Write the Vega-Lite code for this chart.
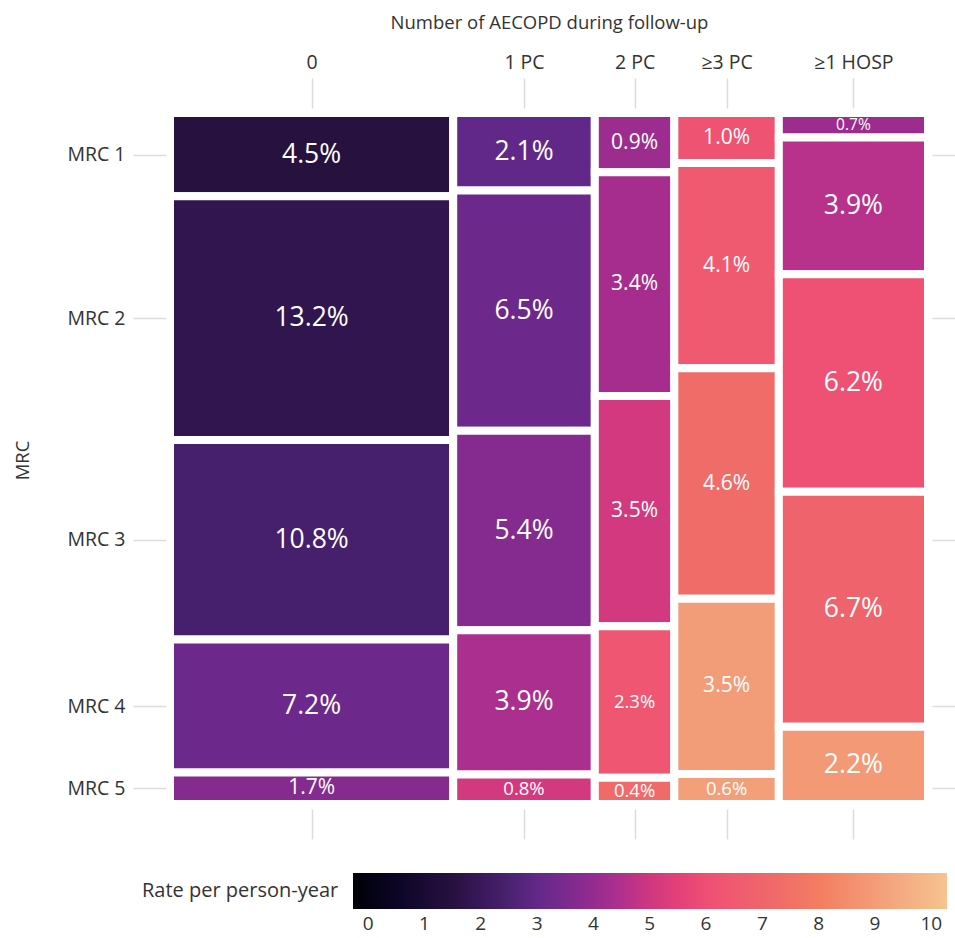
{
  "$schema": "https://vega.github.io/schema/vega-lite/v6.json",
  "width": 758,
  "height": 691,
  "autosize": {"type": "none"},
  "padding": {"left": 170, "top": 113, "right": 27, "bottom": 134},
  "background": "white",
  "config": {
    "font": "Open Sans",
    "view": {"stroke": null},
    "axis": {"grid": false, "domain": false, "tickColor": "#dcdcdc", "tickWidth": 1.5, "labelColor": "#333333", "titleColor": "#333333", "labelFontSize": 19.5, "titleFontSize": 18.5, "titleFontWeight": "normal"},
    "legend": {"labelColor": "#333333", "titleColor": "#333333", "labelFontSize": 19, "titleFontSize": 20, "titleFontWeight": "normal", "titleLimit": 400}
  },
  "data": {
    "values": [
      {"aecopd": "0", "order": 1, "mrc": "MRC 1", "share": 0.045, "rate": 1.5},
      {"aecopd": "0", "order": 1, "mrc": "MRC 2", "share": 0.132, "rate": 1.8},
      {"aecopd": "0", "order": 1, "mrc": "MRC 3", "share": 0.108, "rate": 2.4},
      {"aecopd": "0", "order": 1, "mrc": "MRC 4", "share": 0.072, "rate": 3.2},
      {"aecopd": "0", "order": 1, "mrc": "MRC 5", "share": 0.017, "rate": 3.7},
      {"aecopd": "1 PC", "order": 2, "mrc": "MRC 1", "share": 0.021, "rate": 3.0},
      {"aecopd": "1 PC", "order": 2, "mrc": "MRC 2", "share": 0.065, "rate": 3.2},
      {"aecopd": "1 PC", "order": 2, "mrc": "MRC 3", "share": 0.054, "rate": 3.7},
      {"aecopd": "1 PC", "order": 2, "mrc": "MRC 4", "share": 0.039, "rate": 4.4},
      {"aecopd": "1 PC", "order": 2, "mrc": "MRC 5", "share": 0.008, "rate": 5.1},
      {"aecopd": "2 PC", "order": 3, "mrc": "MRC 1", "share": 0.009, "rate": 4.15},
      {"aecopd": "2 PC", "order": 3, "mrc": "MRC 2", "share": 0.034, "rate": 4.3},
      {"aecopd": "2 PC", "order": 3, "mrc": "MRC 3", "share": 0.035, "rate": 5.1},
      {"aecopd": "2 PC", "order": 3, "mrc": "MRC 4", "share": 0.023, "rate": 6.3},
      {"aecopd": "2 PC", "order": 3, "mrc": "MRC 5", "share": 0.004, "rate": 7.2},
      {"aecopd": "≥3 PC", "order": 4, "mrc": "MRC 1", "share": 0.010, "rate": 6.2},
      {"aecopd": "≥3 PC", "order": 4, "mrc": "MRC 2", "share": 0.041, "rate": 6.5},
      {"aecopd": "≥3 PC", "order": 4, "mrc": "MRC 3", "share": 0.046, "rate": 7.3},
      {"aecopd": "≥3 PC", "order": 4, "mrc": "MRC 4", "share": 0.035, "rate": 9.0},
      {"aecopd": "≥3 PC", "order": 4, "mrc": "MRC 5", "share": 0.006, "rate": 9.1},
      {"aecopd": "≥1 HOSP", "order": 5, "mrc": "MRC 1", "share": 0.007, "rate": 4.15},
      {"aecopd": "≥1 HOSP", "order": 5, "mrc": "MRC 2", "share": 0.039, "rate": 4.6},
      {"aecopd": "≥1 HOSP", "order": 5, "mrc": "MRC 3", "share": 0.062, "rate": 6.1},
      {"aecopd": "≥1 HOSP", "order": 5, "mrc": "MRC 4", "share": 0.067, "rate": 6.9},
      {"aecopd": "≥1 HOSP", "order": 5, "mrc": "MRC 5", "share": 0.022, "rate": 8.9}
    ]
  },
  "transform": [
    {"stack": "share", "groupby": ["aecopd"], "sort": [{"field": "mrc", "order": "ascending"}], "offset": "normalize", "as": ["y0", "y1"]},
    {"stack": "share", "groupby": [], "sort": [{"field": "order", "order": "ascending"}, {"field": "mrc", "order": "ascending"}], "offset": "normalize", "as": ["s0", "s1"]},
    {"joinaggregate": [{"op": "min", "field": "s0", "as": "x0"}, {"op": "max", "field": "s1", "as": "x1"}], "groupby": ["aecopd"]}
  ],
  "layer": [
    {
      "mark": {"type": "rect", "stroke": "white", "strokeWidth": 8},
      "encoding": {
        "x": {"field": "x0", "type": "quantitative", "scale": {"domain": [0, 1], "nice": false, "zero": false},
          "axis": {"orient": "top", "title": "Number of AECOPD during follow-up", "values": [0.18681, 0.46703, 0.61289, 0.73427, 0.9016],
            "labelExpr": "datum.value < 0.3 ? '0' : datum.value < 0.5 ? '1 PC' : datum.value < 0.65 ? '2 PC' : datum.value < 0.8 ? '≥3 PC' : '≥1 HOSP'",
            "tickSize": 30, "offset": 5, "labelPadding": 6, "titlePadding": 20}},
        "x2": {"field": "x1"},
        "y": {"field": "y0", "type": "quantitative", "scale": {"domain": [0, 1], "nice": false, "zero": false, "reverse": true},
          "axis": {"orient": "left", "title": "MRC", "values": [0.06016, 0.29679, 0.61765, 0.85829, 0.97727],
            "labelExpr": "datum.value < 0.1 ? 'MRC 1' : datum.value < 0.4 ? 'MRC 2' : datum.value < 0.7 ? 'MRC 3' : datum.value < 0.9 ? 'MRC 4' : 'MRC 5'",
            "tickSize": 33, "offset": 4, "labelPadding": 8, "titleX": -144, "titleY": 347, "titleBaseline": "middle", "titleAngle": 270}},
        "y2": {"field": "y1"},
        "color": {"field": "rate", "type": "quantitative", "title": "Rate per person-year",
          "scale": {"domain": [-0.27, 0.5, 1, 1.5, 2, 2.5, 3, 3.5, 4, 4.5, 5, 5.5, 6, 6.5, 7, 7.5, 8, 8.5, 9, 9.5, 10.28],
            "range": ["#000004", "#0c0524", "#190b33", "#27113f", "#38185a", "#4a2270", "#622889", "#7a2a8e", "#942b90", "#b1308d", "#cf377f", "#e34079", "#ee4f74", "#f05a70", "#ef656b", "#f17166", "#f37d61", "#f38d6d", "#f39c78", "#f4ac83", "#f6c48f"]},
          "legend": {"orient": "none", "direction": "horizontal", "legendX": -28, "legendY": 760, "gradientLength": 594, "gradientThickness": 36,
            "titleOrient": "left", "titleBaseline": "middle", "titleAnchor": "middle", "titlePadding": 14, "titleLimit": 400, "values": [0, 1, 2, 3, 4, 5, 6, 7, 8, 9, 10], "gradientStrokeWidth": 0, "labelOffset": 6}}
      }
    },
    {
      "transform": [
        {"fold": ["y0", "y1"], "as": ["yk", "yv"]},
        {"joinaggregate": [{"op": "mean", "field": "yv", "as": "ymid"}], "groupby": ["aecopd", "mrc"]},
        {"filter": "datum.yk == 'y0'"},
        {"fold": ["x0", "x1"], "as": ["xk", "xv"]},
        {"joinaggregate": [{"op": "mean", "field": "xv", "as": "xmid"}], "groupby": ["aecopd", "mrc"]},
        {"filter": "datum.xk == 'x0'"}
      ],
      "mark": {"type": "text", "color": "white", "baseline": "middle", "align": "center"},
      "encoding": {
        "x": {"field": "xmid", "type": "quantitative", "axis": {"orient": "bottom", "labels": false, "title": null, "values": [0.18681, 0.46703, 0.61289, 0.73427, 0.9016], "tickSize": 30, "offset": 5}},
        "y": {"field": "ymid", "type": "quantitative", "axis": {"orient": "right", "labels": false, "title": null, "values": [0.06016, 0.29679, 0.61765, 0.85829, 0.97727], "tickSize": 25, "offset": 4}},
        "text": {"field": "share", "type": "quantitative", "format": ".1%"},
        "size": {
          "condition": [
            {"test": "datum.aecopd == '≥1 HOSP' && datum.mrc == 'MRC 1'", "value": 15.5},
            {"test": "(datum.aecopd == '2 PC' && datum.mrc >= 'MRC 4') || (datum.aecopd == '≥3 PC' && datum.mrc == 'MRC 5') || (datum.aecopd == '1 PC' && datum.mrc == 'MRC 5')", "value": 18.5},
            {"test": "(datum.aecopd == '2 PC') || (datum.aecopd == '≥3 PC') || (datum.aecopd == '0' && datum.mrc == 'MRC 5')", "value": 21}
          ],
          "value": 26.5
        }
      }
    }
  ],
  "resolve": {"axis": {"x": "independent", "y": "independent"}}
}
